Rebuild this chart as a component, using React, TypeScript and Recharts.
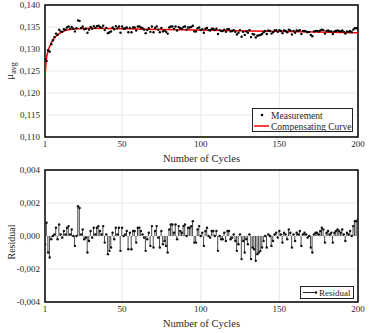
import React from 'react';
import {
  ComposedChart,
  Line,
  Scatter,
  Bar,
  XAxis,
  YAxis,
  CartesianGrid,
  ReferenceArea,
  Legend,
} from 'recharts';

const FONT = '"Liberation Serif", "Times New Roman", serif';
const TEXT = '#262626';

// Measured friction coefficient per cycle (cycles 1..200)
const measurement: number[] = [
  0.1277, 0.1273, 0.1297, 0.1294, 0.1311, 0.1320, 0.1327, 0.1335, 0.1332, 0.1344,
  0.1340, 0.1339, 0.1345, 0.1344, 0.1349, 0.1351, 0.1346, 0.1350, 0.1346, 0.1340,
  0.1347, 0.1365, 0.1364, 0.1348, 0.1351, 0.1345, 0.1346, 0.1337, 0.1344, 0.1350,
  0.1346, 0.1352, 0.1348, 0.1352, 0.1353, 0.1350, 0.1348, 0.1353, 0.1343, 0.1348,
  0.1336, 0.1338, 0.1340, 0.1349, 0.1345, 0.1352, 0.1347, 0.1351, 0.1337, 0.1351,
  0.1346, 0.1347, 0.1349, 0.1338, 0.1348, 0.1338, 0.1349, 0.1349, 0.1342, 0.1351,
  0.1351, 0.1349, 0.1347, 0.1344, 0.1336, 0.1343, 0.1347, 0.1339, 0.1351, 0.1338,
  0.1348, 0.1351, 0.1344, 0.1338, 0.1348, 0.1340, 0.1342, 0.1339, 0.1335, 0.1349,
  0.1351, 0.1351, 0.1346, 0.1351, 0.1342, 0.1350, 0.1347, 0.1346, 0.1350, 0.1351,
  0.1344, 0.1349, 0.1349, 0.1350, 0.1353, 0.1340, 0.1340, 0.1347, 0.1349, 0.1343,
  0.1345, 0.1337, 0.1346, 0.1348, 0.1343, 0.1342, 0.1346, 0.1346, 0.1343, 0.1346,
  0.1334, 0.1343, 0.1341, 0.1341, 0.1344, 0.1339, 0.1345, 0.1345, 0.1340, 0.1341,
  0.1343, 0.1339, 0.1333, 0.1337, 0.1343, 0.1328, 0.1339, 0.1332, 0.1340, 0.1337,
  0.1343, 0.1327, 0.1334, 0.1333, 0.1326, 0.1330, 0.1331, 0.1332, 0.1334, 0.1338,
  0.1341, 0.1334, 0.1342, 0.1341, 0.1335, 0.1338, 0.1342, 0.1343, 0.1339, 0.1343,
  0.1341, 0.1336, 0.1342, 0.1341, 0.1338, 0.1344, 0.1342, 0.1333, 0.1341, 0.1337,
  0.1342, 0.1341, 0.1343, 0.1334, 0.1341, 0.1341, 0.1340, 0.1338, 0.1339, 0.1332,
  0.1329, 0.1340, 0.1341, 0.1341, 0.1340, 0.1342, 0.1344, 0.1343, 0.1335, 0.1341,
  0.1342, 0.1340, 0.1340, 0.1334, 0.1340, 0.1341, 0.1342, 0.1341, 0.1340, 0.1342,
  0.1339, 0.1335, 0.1340, 0.1339, 0.1341, 0.1338, 0.1344, 0.1347, 0.1347, 0.1347,
];

// Residual per cycle (cycles 1..200)
const residual: number[] = [
  -0.0005, 0.0008, -0.0010, -0.0013, -0.0002, 0.0000, 0.0001, 0.0005, -0.0002, 0.0007,
  0.0001, -0.0001, 0.0003, 0.0001, 0.0005, 0.0006, 0.0001, 0.0004, 0.0000, -0.0006,
  0.0000, 0.0018, 0.0017, 0.0001, 0.0004, -0.0002, -0.0001, -0.0010, -0.0003, 0.0003,
  -0.0001, 0.0005, 0.0001, 0.0005, 0.0006, 0.0003, 0.0001, 0.0006, -0.0004, 0.0001,
  -0.0011, -0.0009, -0.0007, 0.0002, -0.0002, 0.0005, 0.0001, 0.0005, -0.0009, 0.0005,
  0.0000, 0.0001, 0.0003, -0.0008, 0.0002, -0.0008, 0.0003, 0.0003, -0.0004, 0.0005,
  0.0005, 0.0003, 0.0001, -0.0001, -0.0009, -0.0002, 0.0002, -0.0006, 0.0006, -0.0007,
  0.0003, 0.0006, -0.0001, -0.0007, 0.0003, -0.0005, -0.0003, -0.0006, -0.0010, 0.0004,
  0.0007, 0.0007, 0.0002, 0.0007, -0.0002, 0.0006, 0.0003, 0.0002, 0.0006, 0.0007,
  0.0000, 0.0005, 0.0005, 0.0006, 0.0009, -0.0004, -0.0004, 0.0004, 0.0006, 0.0000,
  0.0002, -0.0006, 0.0003, 0.0005, 0.0000, -0.0001, 0.0003, 0.0003, 0.0000, 0.0003,
  -0.0009, 0.0000, -0.0002, -0.0002, 0.0002, -0.0003, 0.0003, 0.0003, -0.0002, -0.0001,
  0.0001, -0.0003, -0.0009, -0.0005, 0.0001, -0.0014, -0.0003, -0.0010, -0.0002, -0.0005,
  0.0001, -0.0014, -0.0007, -0.0008, -0.0015, -0.0011, -0.0010, -0.0009, -0.0007, -0.0003,
  0.0000, -0.0007, 0.0001, 0.0000, -0.0006, -0.0003, 0.0001, 0.0002, -0.0001, 0.0003,
  0.0001, -0.0004, 0.0002, 0.0001, -0.0002, 0.0004, 0.0002, -0.0007, 0.0001, -0.0003,
  0.0002, 0.0001, 0.0003, -0.0006, 0.0001, 0.0002, 0.0001, -0.0001, 0.0000, -0.0007,
  -0.0010, 0.0001, 0.0002, 0.0002, 0.0001, 0.0003, 0.0005, 0.0004, -0.0004, 0.0002,
  0.0003, 0.0001, 0.0002, -0.0004, 0.0002, 0.0003, 0.0004, 0.0003, 0.0002, 0.0004,
  0.0001, -0.0003, 0.0002, 0.0001, 0.0003, 0.0000, 0.0006, 0.0009, 0.0009, 0.0010,
];

// Compensating curve, read at selected cycles
const curveCycles: number[] = [1, 2, 3, 4, 5, 6, 7, 8, 10, 12, 15, 18, 22, 30, 64, 98, 132, 166, 200];
const curveValues: number[] = [
  0.1238, 0.1280, 0.1296, 0.1306, 0.1314, 0.1320, 0.1325, 0.1329, 0.1335, 0.1339,
  0.1343, 0.1345, 0.1346, 0.1347, 0.1345, 0.1343, 0.1341, 0.1339, 0.1337,
];

const xTicks: number[] = [1, 50, 100, 150, 200];
const topYTicks: number[] = [0.11, 0.115, 0.12, 0.125, 0.13, 0.135, 0.14];
const bottomYTicks: number[] = [-0.004, -0.002, 0, 0.002, 0.004];

const measurementData = measurement.map((v, i) => ({ cycle: i + 1, value: v }));
const residualData = residual.map((v, i) => ({ cycle: i + 1, value: v }));
const curveData = curveCycles.map((c, i) => ({ cycle: c, value: curveValues[i] }));

const fmt = (v: number) => v.toFixed(3).replace('.', ',');

const tickStyle = { fontSize: 9, fill: TEXT, fontFamily: FONT };

const MuLabel = (props: any) => {
  const vb = props.viewBox || { y: 5, height: 132 };
  const cy = vb.y + vb.height / 2;
  const x = 13;
  return (
    <text
      x={x}
      y={cy}
      transform={`rotate(-90, ${x}, ${cy})`}
      textAnchor="middle"
      fontFamily={FONT}
      fill={TEXT}
      fontSize={11}
    >
      <tspan>μ</tspan>
      <tspan dy={3} fontSize={8}>avg</tspan>
    </text>
  );
};

const ResidualLabel = (props: any) => {
  const vb = props.viewBox || { y: 5, height: 132 };
  const cy = vb.y + vb.height / 2 + 6;
  const x = 15;
  return (
    <text
      x={x}
      y={cy}
      transform={`rotate(-90, ${x}, ${cy})`}
      textAnchor="middle"
      fontFamily={FONT}
      fill={TEXT}
      fontSize={10}
    >
      Residual
    </text>
  );
};

const DotShape = (props: any) => (
  <circle cx={props.cx} cy={props.cy} r={1.2} fill="#000" />
);
const StemDot = (props: any) => (
  <circle cx={props.cx} cy={props.cy} r={1.2} fill="#111" />
);

const TopLegend = () => (
  <div
    style={{
      width: 101,
      height: 24,
      boxSizing: 'border-box',
      border: '1px solid #222',
      background: '#fff',
      fontFamily: FONT,
    }}
  >
    <svg width={99} height={22} style={{ display: 'block' }}>
      <circle cx={9} cy={6} r={1.3} fill="#000" />
      <text x={18} y={9.5} fontSize={9.5} fill={TEXT} fontFamily={FONT}>Measurement</text>
      <line x1={1} y1={17} x2={16} y2={17} stroke="#ff0000" strokeWidth={1.5} />
      <text x={18} y={20.5} fontSize={9.5} fill={TEXT} fontFamily={FONT}>Compensating Curve</text>
    </svg>
  </div>
);

const BottomLegend = () => (
  <div
    style={{
      width: 54,
      height: 13,
      boxSizing: 'border-box',
      border: '1px solid #222',
      background: '#fff',
      fontFamily: FONT,
    }}
  >
    <svg width={52} height={11} style={{ display: 'block' }}>
      <line x1={2} y1={5.5} x2={15} y2={5.5} stroke="#222" strokeWidth={1} />
      <circle cx={15} cy={5.5} r={1.3} fill="#111" />
      <text x={18} y={9} fontSize={9} fill={TEXT} fontFamily={FONT}>Residual</text>
    </svg>
  </div>
);

const xAxisCommon = {
  type: 'number' as const,
  dataKey: 'cycle',
  domain: [1, 200],
  ticks: xTicks,
  allowDataOverflow: true,
  height: 28,
  tickLine: false,
  axisLine: false,
  tickSize: 0,
  tickMargin: 4,
  interval: 0 as const,
  tick: tickStyle,
};

export default function App() {
  return (
    <div style={{ position: 'absolute', left: 0, top: 0, width: 376, height: 333, background: '#fff' }}>
      <div style={{ position: 'absolute', left: 0, top: 0 }}>
        <ComposedChart
          width={376}
          height={165}
          data={measurementData}
          margin={{ top: 5, right: 18, bottom: 0, left: 0 }}
        >
          <CartesianGrid stroke="#e4e4e4" strokeWidth={0.8} />
          <XAxis
            {...xAxisCommon}
            label={{ value: 'Number of Cycles', position: 'insideBottom', offset: 3, fontSize: 10.5, fill: TEXT, fontFamily: FONT }}
          />
          <YAxis
            type="number"
            domain={[0.11, 0.14]}
            ticks={topYTicks}
            allowDataOverflow
            width={45}
            tickLine={false}
            axisLine={false}
            tickSize={0}
            tickMargin={5}
            interval={0}
            tick={tickStyle}
            tickFormatter={fmt}
            label={MuLabel}
          />
          <ReferenceArea x1={1} x2={200} y1={0.11} y2={0.14} fill="none" fillOpacity={0} stroke="#000" strokeWidth={1.5} ifOverflow="visible" />
          <Scatter dataKey="value" shape={DotShape} isAnimationActive={false} />
          <Line
            data={curveData}
            dataKey="value"
            type="monotone"
            stroke="#ff0000"
            strokeWidth={1.5}
            dot={false}
            activeDot={false}
            isAnimationActive={false}
          />
          <Legend
            layout="vertical"
            align="center"
            verticalAlign="middle"
            content={TopLegend}
            wrapperStyle={{ left: 252, top: 108, width: 101, height: 24 }}
          />
        </ComposedChart>
      </div>
      <div style={{ position: 'absolute', left: 0, top: 165 }}>
        <ComposedChart
          width={376}
          height={165}
          data={residualData}
          margin={{ top: 5, right: 18, bottom: 0, left: 0 }}
        >
          <CartesianGrid stroke="#e4e4e4" strokeWidth={0.8} />
          <XAxis
            {...xAxisCommon}
            label={{ value: 'Number of Cycles', position: 'insideBottom', offset: 3, fontSize: 10.5, fill: TEXT, fontFamily: FONT }}
          />
          <YAxis
            type="number"
            domain={[-0.004, 0.004]}
            ticks={bottomYTicks}
            allowDataOverflow
            width={45}
            tickLine={false}
            axisLine={false}
            tickSize={0}
            tickMargin={5}
            interval={0}
            tick={tickStyle}
            tickFormatter={fmt}
            label={ResidualLabel}
          />
          <Bar dataKey="value" barSize={1} fill="#4a4a4a" isAnimationActive={false} />
          <Scatter dataKey="value" shape={StemDot} isAnimationActive={false} />
          <ReferenceArea x1={1} x2={200} y1={-0.004} y2={0.004} fill="none" fillOpacity={0} stroke="#000" strokeWidth={1.5} ifOverflow="visible" />
          <Legend
            layout="vertical"
            align="center"
            verticalAlign="middle"
            content={BottomLegend}
            wrapperStyle={{ left: 300, top: 121, width: 54, height: 13 }}
          />
        </ComposedChart>
      </div>
    </div>
  );
}
